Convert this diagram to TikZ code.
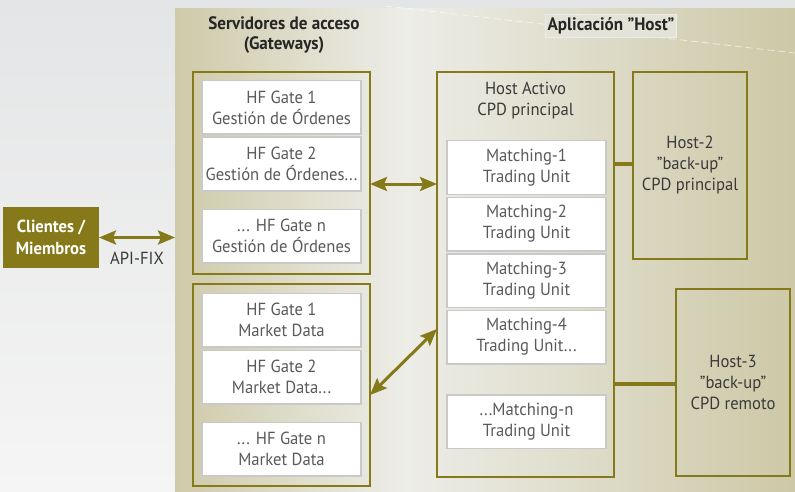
\documentclass[tikz,border=0pt]{standalone}
\usepackage{fontspec}
\setmainfont{PT Sans}[FakeStretch=0.95]
\usetikzlibrary{arrows.meta,calc}
\definecolor{oliv}{HTML}{85791A}
\definecolor{beigeL}{HTML}{CFCAA9}
\definecolor{beigeR}{HTML}{CDC8A6}
\definecolor{panelmid}{HTML}{EDEDE8}
\definecolor{bgtop}{HTML}{E4E5E6}
\definecolor{bgbot}{HTML}{F5F5F5}
\definecolor{boxgray}{HTML}{C9C9C9}
\definecolor{txtgray}{HTML}{5A5A5A}
\definecolor{txtdark}{HTML}{3A3A3A}
\definecolor{labelbg}{HTML}{E4E3D8}
\begin{document}
\begin{tikzpicture}[x=1pt,y=-1pt,
  every node/.style={inner sep=0pt, outer sep=0pt, align=center},
  boxfont/.style={font=\fontsize{17.5}{21}\selectfont},
  titlefont/.style={font=\fontsize{18}{19.5}\selectfont\bfseries, text=black!85},
  outerbox/.style={draw=oliv, line width=1.2pt, minimum width=177pt},
  gatebox/.style={draw=boxgray, line width=1.5pt, fill=white, minimum width=159pt,
    minimum height=53.5pt, boxfont, text=txtgray},
  hostbox/.style={draw=oliv, line width=1.2pt, minimum width=114pt, minimum height=187pt,
    boxfont, text=txtdark},
  link/.style={draw=oliv, line width=3.2pt},
  dblarrow/.style={draw=oliv, line width=3pt,
    {Stealth[length=17pt,width=14pt,inset=3pt]}-{Stealth[length=17pt,width=14pt,inset=3pt]}},
]
\useasboundingbox (0,0) rectangle (795,492);
% background
\fill[top color=bgtop, bottom color=bgbot] (0,0) rectangle (795,492);
% panels
\node[name=gwpanel, minimum width=230pt, minimum height=483pt,
  left color=beigeL, right color=panelmid] at (290,250.5) {};
\node[name=hostpanel, minimum width=390pt, minimum height=483pt,
  left color=panelmid, right color=beigeR] at (600,250.5) {};
% decorative dashed line
\coordinate (dl1) at (385,6);
\coordinate (dl2) at (795,53);
\draw[white, line width=0.8pt, dash pattern=on 7pt off 4pt, opacity=0.6] (dl1) -- (dl2);

% titles
\node[titlefont] (t1) at (284,35) {Servidores de acceso\\(Gateways)};
\node[titlefont, fill=labelbg, draw=white!85!gray, line width=0.5pt, inner xsep=2pt, inner ysep=3pt]
  (t2) at (611,25.5) {Aplicación ”Host”};

% gateway boxes
\node[outerbox, minimum height=202pt] (gwA) at (281.5,173) {};
\node[gatebox] (g1) at (281.5,107.5) {HF Gate 1\\Gestión de Órdenes};
\node[gatebox] (g2) at (281.5,164) {HF Gate 2\\Gestión de Órdenes...};
\node[gatebox] (g3) at (281.5,236) {... HF Gate n\\Gestión de Órdenes};

\node[outerbox, minimum height=202pt] (gwB) at (281.5,385) {};
\node[gatebox] (m1) at (281.5,320) {HF Gate 1\\Market Data};
\node[gatebox] (m2) at (281.5,377) {HF Gate 2\\Market Data...};
\node[gatebox] (m3) at (281.5,449) {... HF Gate n\\Market Data};

% host activo
\node[outerbox, minimum height=405pt] (ha) at (525.5,274.5) {};
\node[boxfont, text=txtdark] (hat) at (525.5,101) {Host Activo\\CPD principal};
\node[gatebox] (tu1) at (526.5,167.5) {Matching-1\\Trading Unit};
\node[gatebox] (tu2) at (526.5,224) {Matching-2\\Trading Unit};
\node[gatebox] (tu3) at (526.5,280.5) {Matching-3\\Trading Unit};
\node[gatebox] (tu4) at (526.5,337) {Matching-4\\Trading Unit...};
\node[gatebox] (tun) at (526.5,421.5) {...Matching-n\\Trading Unit};

% backup hosts
\node[hostbox] (h2) at (690,165.5) {Host-2\\”back-up”\\CPD principal};
\node[hostbox] (h3) at (733,382.5) {Host-3\\”back-up”\\CPD remoto};

% clientes
\node[fill=oliv, minimum width=96pt, minimum height=61pt, text=white,
  font=\fontsize{17.5}{21.5}\selectfont\bfseries] (cli) at (51,237.5) {Clientes /\\Miembros};
\node[boxfont, text=txtdark] (api) at (137,258) {API-FIX};

% connectors
\draw[dblarrow] (cli.east) -- (cli.east -| gwpanel.west);
\draw[dblarrow] ([yshift=-11pt]gwA.east) -- ([yshift=90.5pt]ha.west);
\draw[dblarrow] ([yshift=-10pt]gwB.east) -- ([yshift=-54.5pt]ha.west);
\draw[link] ([yshift=110.5pt]ha.east) -- ([yshift=110.5pt]ha.east -| h2.west);
\draw[link] ([yshift=-109.5pt]ha.east) -- ([yshift=-109.5pt]ha.east -| h3.west);
\end{tikzpicture}
\end{document}
